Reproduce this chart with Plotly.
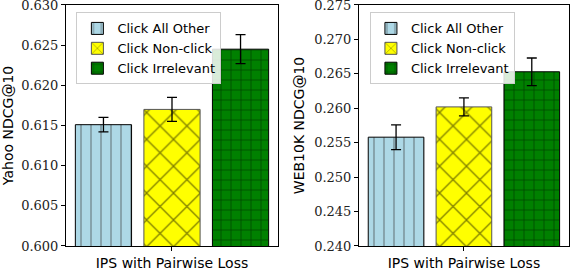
import plotly.graph_objects as go
from plotly.subplots import make_subplots

category = ["IPS with Pairwise Loss"]
series = ["Click All Other", "Click Non-click", "Click Irrelevant"]
yahoo_vals = [0.6151, 0.6170, 0.6245]
yahoo_err = [0.0009, 0.0015, 0.0018]
web_vals = [0.2558, 0.2602, 0.2653]
web_err = [0.0018, 0.0013, 0.0020]
yahoo_ticks = [0.600, 0.605, 0.610, 0.615, 0.620, 0.625, 0.630]
web_ticks = [0.240, 0.245, 0.250, 0.255, 0.260, 0.265, 0.270, 0.275]

colors = ["#add8e6", "#ffff00", "#008000"]
shapes = ["|", "x", "+"]
pat_colors = ["#333333", "#000000", "#000000"]
pat_sizes = [10, 19, 10]
line_colors = ["#000000", "#555555", "#000000"]

fig = make_subplots(rows=1, cols=2)

for col, vals, errs, leg in [(1, yahoo_vals, yahoo_err, "legend"), (2, web_vals, web_err, "legend2")]:
    for i, name in enumerate(series):
        fig.add_trace(go.Bar(
            x=category, y=[vals[i]], name=name,
            marker=dict(color=colors[i], line=dict(color=line_colors[i], width=1),
                        pattern=dict(shape=shapes[i], fgcolor=pat_colors[i], size=pat_sizes[i],
                                     solidity=0.13, fillmode="overlay")),
            error_y=dict(type="data", array=[errs[i]], color="black", thickness=1.3, width=5),
            legend=leg, showlegend=True,
        ), row=1, col=col)

axis_common = dict(showline=True, linecolor="black", linewidth=1, mirror=True, automargin=False,
                   ticks="outside", ticklen=4, tickcolor="black", showgrid=False, zeroline=False)

fig.update_layout(
    width=570, height=277, margin=dict(l=0, r=0, t=0, b=0),
    paper_bgcolor="white", plot_bgcolor="white",
    barmode="group", bargap=0.03, bargroupgap=0.18,
    font=dict(family="DejaVu Sans", color="black"),
    xaxis=dict(domain=[0.1158, 0.4877], **axis_common, tickfont=dict(size=14, family="DejaVu Sans")),
    xaxis2=dict(domain=[0.6298, 0.998], **axis_common, tickfont=dict(size=14, family="DejaVu Sans")),
    yaxis=dict(domain=[0.112, 0.982], range=[yahoo_ticks[0], yahoo_ticks[-1] + 1e-6],
               tickvals=yahoo_ticks, tickformat=".3f", ticklabeloverflow="allow",
               tickfont=dict(size=13, family="DejaVu Serif", color="#222222"),
               title=dict(text="Yahoo NDCG@10", font=dict(size=14), standoff=6), **axis_common),
    yaxis2=dict(domain=[0.112, 0.982], range=[web_ticks[0], web_ticks[-1] + 1e-6],
                tickvals=web_ticks, tickformat=".3f", ticklabeloverflow="allow",
                tickfont=dict(size=13, family="DejaVu Serif", color="#222222"),
                title=dict(text="WEB10K NDCG@10", font=dict(size=14), standoff=6), **axis_common),
    legend=dict(x=0.134, y=0.955, xanchor="left", yanchor="top", bgcolor="rgba(255,255,255,0.85)",
                bordercolor="#cccccc", borderwidth=1, font=dict(size=13), itemwidth=30,
                tracegroupgap=2),
    legend2=dict(x=0.649, y=0.955, xanchor="left", yanchor="top", bgcolor="rgba(255,255,255,0.85)",
                 bordercolor="#cccccc", borderwidth=1, font=dict(size=13), itemwidth=30,
                 tracegroupgap=2),
)

fig.write_html("out.html", config={"displayModeBar": False},
               post_script="document.body.style.margin='0';document.body.style.overflow='hidden';")
